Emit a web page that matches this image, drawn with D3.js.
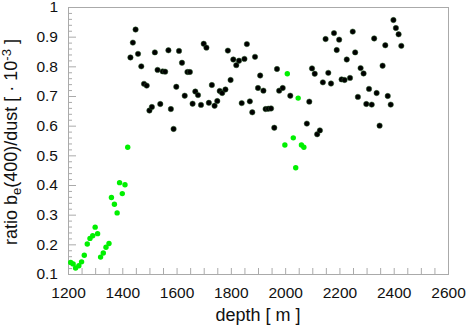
<!DOCTYPE html>
<html>
<head>
<meta charset="utf-8">
<script src="https://cdn.jsdelivr.net/npm/d3@7"></script>
<style>
  body { margin: 0; background: #fff; }
  svg text { font-family: "Liberation Sans", Arial, sans-serif; fill: #111; }
</style>
</head>
<body>
<svg id="chart" width="468" height="328"></svg>
<script>
// green samples (low ratio part + a few around 2000 m)
var depthGreen = [1210,1219,1228,1240,1250,1260,1271,1281,1291,1300,1309,1320,1330,1340,1351,1360,1371,1381,1390,1400,1410,1420,
    1999,2008,2030,2039,2048,2060,2069];
var ratioGreen = [0.139,0.134,0.120,0.128,0.141,0.163,0.201,0.220,0.229,0.258,0.236,0.157,0.171,0.190,0.203,0.358,0.335,0.306,0.408,0.371,0.401,0.527,
    0.535,0.775,0.559,0.458,0.693,0.535,0.527];

// black samples
var depthBlack = [1430,1439,1449,1458,1470,1480,1490,1500,1509,1520,1530,1540,1549,1558,1570,1579,1589,1599,1609,1620,
    1630,1640,1649,1659,1669,1679,1690,1700,1710,1719,1730,1740,1750,1759,1768,1780,1789,1799,1809,1820,
    1830,1840,1850,1859,1870,1879,1889,1900,1908,1920,1928,1938,1948,1960,1970,1978,1991,2019,2080,2089,
    2099,2109,2118,2128,2139,2149,2159,2169,2180,2190,2199,2208,2219,2227,2239,2249,2258,2268,2278,2289,
    2299,2309,2319,2328,2337,2348,2359,2369,2378,2389,2399,2408,2418,2428];
var ratioBlack = [0.830,0.880,0.924,0.842,0.800,0.741,0.735,0.651,0.663,0.847,0.788,0.673,0.783,0.782,0.854,0.656,0.589,0.731,0.852,0.812,
    0.701,0.781,0.781,0.674,0.715,0.703,0.670,0.876,0.863,0.677,0.737,0.667,0.683,0.717,0.710,0.722,0.853,0.754,0.823,0.804,
    0.819,0.676,0.825,0.875,0.682,0.645,0.832,0.727,0.769,0.718,0.656,0.657,0.658,0.593,0.791,0.718,0.727,0.701,0.607,0.681,
    0.793,0.775,0.571,0.584,0.746,0.892,0.778,0.742,0.912,0.855,0.890,0.756,0.754,0.823,0.761,0.917,0.847,0.697,0.794,0.776,
    0.673,0.724,0.671,0.894,0.710,0.600,0.802,0.871,0.700,0.671,0.956,0.929,0.908,0.869];

var xTicks = d3.range(1200, 2601, 50);
var yTicks = d3.range(10, 101, 2).map(function(v){ return v / 100; });

var plotLeft = 68, plotRight = 448, plotTop = 7, plotBottom = 274;
var axisColor = "#aaaaaa";

var svg = d3.select("#chart");
var x = d3.scaleLinear().domain([1200, 2600]).range([plotLeft, plotRight]);
var y = d3.scaleLinear().domain([0.1, 1]).range([plotBottom, plotTop]);

// frame
svg.append("rect")
    .attr("x", plotLeft + 0.5).attr("y", plotTop + 0.5)
    .attr("width", plotRight - plotLeft).attr("height", plotBottom - plotTop)
    .attr("fill", "none").attr("stroke", axisColor);

var xAxis = d3.axisBottom(x)
    .tickValues(xTicks)
    .tickSizeInner(-6).tickSizeOuter(0).tickPadding(13)
    .tickFormat(function(d){ return d % 200 === 0 ? d : ""; });
var gx = svg.append("g").attr("transform", "translate(0," + plotBottom + ")").call(xAxis);

var isMajor = function(d){ return Math.round(d * 100) % 10 === 0; };
var yAxis = d3.axisLeft(y)
    .tickValues(yTicks)
    .tickSizeInner(-4).tickSizeOuter(0).tickPadding(10)
    .tickFormat(function(d){ return isMajor(d) ? String(+d.toFixed(1)) : ""; });
var gy = svg.append("g").attr("transform", "translate(" + plotLeft + ",0)").call(yAxis);
gy.selectAll(".tick line").attr("x2", function(d){ return isMajor(d) ? 8 : 4; });

[gx, gy].forEach(function(g){
    g.selectAll(".domain, .tick line").attr("stroke", axisColor);
    g.selectAll("text").attr("font-size", 15.5).attr("font-family", null).attr("fill", "#111");
});

// points
svg.append("g").selectAll("circle")
    .data(d3.zip(depthBlack, ratioBlack))
    .enter().append("circle")
    .attr("cx", function(d){ return x(d[0]); })
    .attr("cy", function(d){ return y(d[1]); })
    .attr("r", 2.7)
    .attr("fill", "#000")
    .attr("stroke", "#2b5a2b").attr("stroke-width", 0.5);

svg.append("g").selectAll("circle")
    .data(d3.zip(depthGreen, ratioGreen))
    .enter().append("circle")
    .attr("cx", function(d){ return x(d[0]); })
    .attr("cy", function(d){ return y(d[1]); })
    .attr("r", 2.7)
    .attr("fill", "#00f000");

// labels
svg.append("text")
    .attr("x", 258).attr("y", 321)
    .attr("text-anchor", "middle").attr("font-size", 18)
    .text("depth [ m ]");

var yl = svg.append("text")
    .attr("transform", "translate(17,142) rotate(-90)")
    .attr("text-anchor", "middle").attr("font-size", 18);
yl.append("tspan").text("ratio b");
yl.append("tspan").attr("font-size", 13).attr("dy", 4).text("e");
yl.append("tspan").attr("dy", -4).text("(400)/dust [ · 10");
yl.append("tspan").attr("font-size", 13).attr("dy", -6).text("-3");
yl.append("tspan").attr("dy", 6).text(" ]");
</script>
</body>
</html>
